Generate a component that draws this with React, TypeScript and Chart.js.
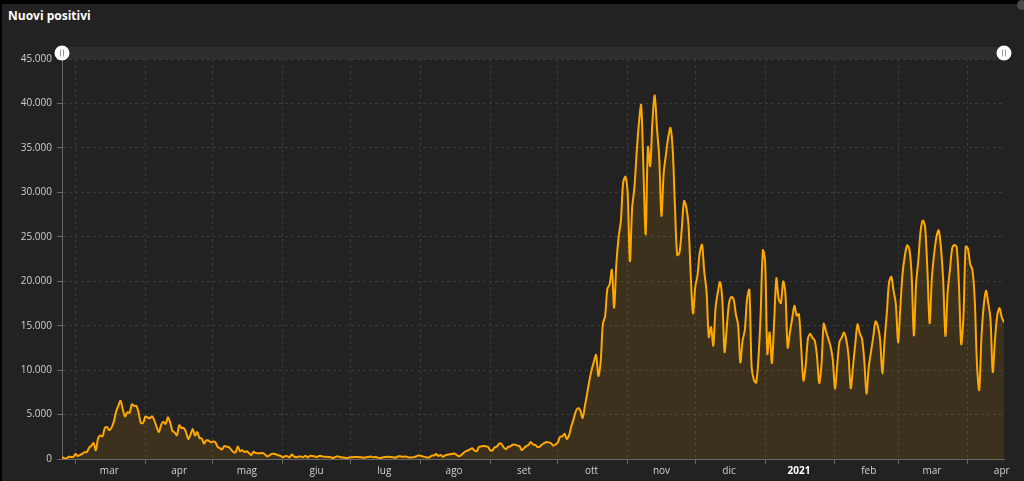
import React, { useEffect, useRef } from 'react';
import { Chart, registerables } from 'chart.js';

Chart.register(...registerables);

// Daily new positives (Italy), 24 Feb 2020 -> 17 Apr 2021, one array per month
const feb2020 = [221, 93, 78, 250, 238, 240];
const mar2020 = [566, 342, 466, 587, 769, 778, 1247, 1492, 1797, 977, 2313, 2651, 2547, 3497, 3590, 3233, 3526, 4207, 5322, 5986, 6557, 5560, 4789, 5249, 5210, 6153, 5959, 5974, 5217, 4050, 4053];
const apr2020 = [4782, 4668, 4585, 4805, 4316, 3599, 3039, 3836, 4204, 3951, 4694, 4092, 3153, 2972, 2667, 3786, 3493, 3491, 3047, 2256, 2729, 3370, 2646, 3021, 2357, 2324, 1739, 2091, 2086, 1872];
const may2020 = [1965, 1900, 1389, 1221, 1075, 1444, 1401, 1327, 1083, 802, 744, 1402, 888, 992, 789, 875, 675, 451, 813, 665, 642, 652, 669, 531, 300, 397, 584, 593, 516, 416, 355];
const jun2020 = [178, 318, 321, 177, 518, 270, 197, 280, 283, 202, 379, 163, 346, 338, 301, 210, 329, 333, 251, 262, 224, 218, 122, 190, 296, 259, 175, 174, 126, 142];
const jul2020 = [187, 201, 223, 235, 192, 208, 138, 193, 229, 276, 188, 234, 169, 114, 162, 230, 233, 249, 219, 190, 129, 282, 306, 252, 275, 255, 170, 181, 212, 289, 386];
const aug2020 = [379, 295, 239, 159, 190, 384, 402, 552, 347, 463, 259, 412, 481, 523, 574, 629, 479, 320, 403, 642, 845, 947, 1071, 1210, 953, 878, 1367, 1409, 1460, 1444, 1365];
const sep2020 = [996, 978, 1326, 1397, 1733, 1695, 1297, 1108, 1370, 1434, 1597, 1616, 1501, 1458, 1008, 1229, 1452, 1585, 1907, 1638, 1587, 1350, 1392, 1640, 1786, 1912, 1869, 1766, 1494, 1648];
const oct2020 = [1851, 2499, 2548, 2844, 2257, 2677, 3678, 4458, 5372, 5724, 5456, 4619, 5901, 7332, 8804, 10010, 10925, 11705, 9338, 10874, 15199, 16079, 19143, 19644, 21273, 17012, 21994, 24991, 26831, 31084, 31758];
const nov2020 = [29907, 22253, 28244, 30550, 34505, 37809, 39811, 32616, 25271, 35098, 32961, 37978, 40902, 37255, 33979, 27354, 32191, 34283, 36176, 37242, 34767, 28337, 22930, 23232, 25853, 29003, 28352, 26323, 20648, 16377];
const dec2020 = [19350, 20709, 23225, 24099, 21052, 18887, 13720, 14842, 12756, 16999, 18727, 19903, 17938, 12030, 14844, 17572, 18236, 17992, 16308, 15104, 10872, 13318, 14522, 18040, 19037, 10407, 8913, 8585, 11212, 16202, 23477];
const jan2021 = [22211, 11831, 14245, 10800, 15378, 20331, 18020, 17533, 19978, 18627, 12532, 14242, 15774, 17246, 16146, 16310, 12545, 8824, 10497, 13571, 14078, 13633, 13331, 11629, 8561, 10593, 15204, 14372, 13574, 12715, 11252];
const feb2021 = [7925, 10630, 13189, 13659, 14218, 13442, 11641, 7970, 10404, 12956, 15146, 14140, 13532, 11068, 7351, 10386, 12074, 13762, 15479, 14931, 13452, 9630, 13314, 16424, 19886, 20499, 18916, 17455];
const mar2021 = [13114, 17083, 20884, 22865, 24036, 23641, 20765, 13902, 19749, 22409, 25673, 26824, 26062, 21315, 15267, 20396, 23059, 24935, 25735, 23832, 20159, 13846, 18765, 21267, 23696, 24076, 23839, 19611, 12916, 16017, 23904];
const apr2021 = [23649, 21932, 21261, 18025, 10680, 7767, 13708, 17221, 18938, 17567, 15746, 9789, 13447, 16168, 16974, 15943, 15370];

const monthNames = ['feb', 'mar', 'apr', 'mag', 'giu', 'lug', 'ago', 'set', 'ott', 'nov', 'dic', '2021', 'feb', 'mar', 'apr'];
const yTickValues = [0, 5000, 10000, 15000, 20000, 25000, 30000, 35000, 40000, 45000];
const seriesLabel = 'Nuovi positivi';

const months = [feb2020, mar2020, apr2020, may2020, jun2020, jul2020, aug2020, sep2020, oct2020, nov2020, dec2020, jan2021, feb2021, mar2021, apr2021];
const values = months.flat();
const lastIndex = values.length - 1;

const monthStarts: number[] = [];
{
  let acc = 0;
  months.forEach((m) => { monthStarts.push(acc); acc += m.length; });
}
const boundaryTicks = monthStarts.slice(1);
const labelMap = new Map<number, string>();
monthStarts.forEach((s, i) => {
  if (i === 0) return;
  labelMap.set(s + 15, monthNames[i]);
});
const boundarySet = new Set(boundaryTicks);

const fmt = (v: number) => String(v).replace(/\B(?=(\d{3})+(?!\d))/g, '.');

const FONT = '"Open Sans", "DejaVu Sans", sans-serif';

const sliderPlugin = {
  id: 'sliderDecor',
  afterDraw(chart: any) {
    const { ctx, chartArea } = chart;
    const l = chartArea.left, r = chartArea.right;
    ctx.save();
    ctx.fillStyle = '#2e2e2e';
    ctx.fillRect(l, 47, r - l, 12);
    [l, r].forEach((cx) => {
      ctx.beginPath();
      ctx.arc(cx, 53, 7.5, 0, Math.PI * 2);
      ctx.fillStyle = '#ffffff';
      ctx.fill();
      ctx.strokeStyle = '#9a9a9a';
      ctx.lineWidth = 1;
      ctx.beginPath();
      ctx.moveTo(cx - 1.5, 49.5); ctx.lineTo(cx - 1.5, 56.5);
      ctx.moveTo(cx + 1.5, 49.5); ctx.lineTo(cx + 1.5, 56.5);
      ctx.stroke();
    });
    ctx.restore();
  },
};

export default function App() {
  const canvasRef = useRef<HTMLCanvasElement | null>(null);

  useEffect(() => {
    document.body.style.margin = '0';
    const canvas = canvasRef.current;
    if (!canvas) return;
    const chart = new Chart(canvas, {
      type: 'line',
      data: {
        datasets: [
          {
            label: seriesLabel,
            data: values.map((v, i) => ({ x: i, y: v })),
            borderColor: '#ffa800',
            borderWidth: 2,
            backgroundColor: 'rgba(255,165,0,0.12)',
            fill: 'origin',
            pointRadius: 0,
            tension: 0.3,
          },
        ],
      },
      options: {
        animation: false,
        responsive: true,
        maintainAspectRatio: false,
        layout: { padding: { left: 0, top: 59, right: 20, bottom: 0 } },
        plugins: {
          legend: { display: false },
          tooltip: { enabled: false },
          title: { display: false },
        },
        scales: {
          x: {
            type: 'linear',
            min: 0,
            max: lastIndex,
            afterBuildTicks: (scale: any) => {
              const all = [...boundaryTicks, ...Array.from(labelMap.keys()).filter((v) => v <= lastIndex)].sort((a, b) => a - b);
              scale.ticks = all.map((v) => ({ value: v }));
            },
            afterFit: (scale: any) => { scale.height = 22; },
            ticks: {
              autoSkip: false,
              maxRotation: 0,
              minRotation: 0,
              padding: 1,
              callback: (v: any) => labelMap.get(Number(v)) ?? '',
              color: (ctx: any) => (ctx.tick && labelMap.get(ctx.tick.value) === '2021' ? '#ffffff' : '#d0d0d0'),
              font: (ctx: any) => ({
                family: FONT,
                size: 10,
                weight: ctx.tick && labelMap.get(ctx.tick.value) === '2021' ? 'bold' : 'normal',
              }),
            },
            grid: {
              color: (ctx: any) => (ctx.tick && boundarySet.has(ctx.tick.value) ? '#3a3a3a' : 'rgba(0,0,0,0)'),
              tickColor: (ctx: any) => (ctx.tick && boundarySet.has(ctx.tick.value) ? '#666666' : 'rgba(0,0,0,0)'),
              tickLength: 5,
              tickBorderDash: [],
              lineWidth: 1,
            },
            border: { display: true, color: '#666666', width: 1, dash: [3, 3] },
          },
          y: {
            type: 'linear',
            min: 0,
            max: 45000,
            afterBuildTicks: (scale: any) => {
              scale.ticks = yTickValues.map((v) => ({ value: v }));
            },
            afterFit: (scale: any) => { scale.width = 62; },
            ticks: {
              padding: 5,
              color: '#d0d0d0',
              font: { family: FONT, size: 10 },
              callback: (v: any) => fmt(Number(v)),
            },
            grid: {
              color: '#3a3a3a',
              tickColor: '#666666',
              tickLength: 5,
              tickBorderDash: [],
              lineWidth: 1,
            },
            border: { display: true, color: '#666666', width: 1, dash: [3, 3] },
          },
        },
      },
      plugins: [sliderPlugin],
    } as any);
    return () => chart.destroy();
  }, []);

  return (
    <div style={{ position: 'fixed', left: 0, top: 0, width: 1024, height: 481, background: '#000', overflow: 'hidden' }}>
      <div style={{ position: 'absolute', left: 2, top: 4, right: 0, bottom: 0, background: '#222222' }} />
      <div
        style={{
          position: 'absolute',
          left: 1017,
          top: 0,
          width: 10,
          height: 10,
          borderRadius: '50%',
          background: '#4a4a4a',
        }}
      />
      <div
        style={{
          position: 'absolute',
          left: 8,
          top: 8,
          color: '#ffffff',
          fontFamily: FONT,
          fontWeight: 700,
          fontSize: 12,
          lineHeight: '16px',
          whiteSpace: 'nowrap',
        }}
      >
        {seriesLabel}
      </div>
      <div style={{ position: 'absolute', left: 0, top: 0, width: 1024, height: 481 }}>
        <canvas ref={canvasRef} />
      </div>
    </div>
  );
}
